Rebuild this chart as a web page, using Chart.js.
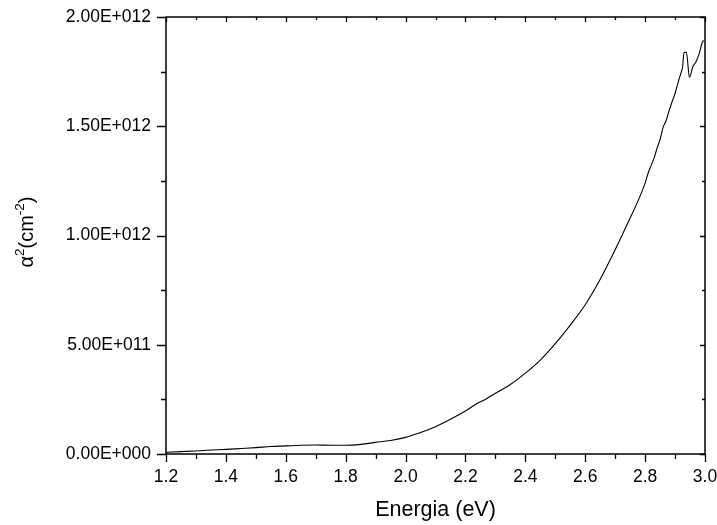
<!DOCTYPE html>
<html><head><meta charset="utf-8">
<script src="https://cdn.jsdelivr.net/npm/chart.js@4/dist/chart.umd.min.js"></script>
<style>html,body{margin:0;padding:0;background:#fff}#wrap{width:717px;height:525px;position:relative}</style>
</head><body><div id="wrap"><canvas id="c"></canvas></div>
<script>
// Energy (eV)
const energy = [1.20,1.25,1.30,1.35,1.40,1.45,1.50,1.55,1.60,1.65,1.70,1.75,1.80,1.85,1.90,1.95,2.00,2.05,2.10,2.15,2.20,2.24,2.26,2.30,2.35,2.40,2.45,2.50,2.55,2.60,2.65,2.70,2.75,2.78,2.80,2.81,2.82,2.83,2.84,2.85,2.86,2.87,2.88,2.89,2.90,2.91,2.92,2.925,2.93,2.938,2.948,2.96,2.97,2.98,2.99,2.995];
// alpha^2 (cm^-2)
const alpha2 = [0.008e12,0.011e12,0.014e12,0.018e12,0.021e12,0.025e12,0.029e12,0.034e12,0.037e12,0.040e12,0.041e12,0.040e12,0.040e12,0.044e12,0.053e12,0.062e12,0.076e12,0.098e12,0.125e12,0.159e12,0.197e12,0.232e12,0.245e12,0.278e12,0.318e12,0.370e12,0.430e12,0.505e12,0.590e12,0.683e12,0.800e12,0.935e12,1.080e12,1.170e12,1.240e12,1.285e12,1.320e12,1.355e12,1.400e12,1.440e12,1.495e12,1.525e12,1.570e12,1.612e12,1.650e12,1.700e12,1.745e12,1.770e12,1.838e12,1.838e12,1.724e12,1.775e12,1.795e12,1.830e12,1.880e12,1.893e12];
const xTickLabels = ['1.2','1.4','1.6','1.8','2.0','2.2','2.4','2.6','2.8','3.0'];
const yTickLabels = ['0.00E+000','5.00E+011','1.00E+012','1.50E+012','2.00E+012'];
const xTitle = 'Energia (eV)';

const FONT = '"Liberation Sans", Arial, sans-serif';

const framePlugin = {
  id: 'frame',
  afterDraw(chart) {
    const ctx = chart.ctx, a = chart.chartArea;
    const xs = chart.scales.x, ys = chart.scales.y;
    ctx.save();
    ctx.strokeStyle = '#000';
    ctx.lineWidth = 1.5;
    ctx.strokeRect(a.left, a.top, a.right - a.left, a.bottom - a.top);
    ctx.lineWidth = 1.3;
    ctx.beginPath();
    xs.ticks.forEach(t => {
      const px = Math.round(xs.getPixelForValue(t.value)) + 0.5;
      const major = Math.round(t.value * 10) % 2 === 0;
      ctx.moveTo(px, a.bottom); ctx.lineTo(px, a.bottom + (major ? 8 : 5));
      ctx.moveTo(px, a.top); ctx.lineTo(px, a.top + (major ? 5 : 3));
    });
    ys.ticks.forEach(t => {
      const py = Math.round(ys.getPixelForValue(t.value)) + 0.5;
      const major = Math.round(t.value / 2.5e11) % 2 === 0;
      ctx.moveTo(a.left, py); ctx.lineTo(a.left - (major ? 9 : 5), py);
      ctx.moveTo(a.right, py); ctx.lineTo(a.right - (major ? 5 : 3), py);
    });
    ctx.stroke();
    // axis titles
    ctx.fillStyle = '#000';
    ctx.font = '21.5px ' + FONT;
    ctx.textAlign = 'center';
    ctx.textBaseline = 'alphabetic';
    ctx.fillText(xTitle, (a.left + a.right) / 2, 516);
    // y title rotated: α²(cm⁻²)
    ctx.save();
    ctx.translate(33, 232);
    ctx.rotate(-Math.PI / 2);
    const parts = [['α', 20, 0], ['2', 13.5, -9.5], ['(cm', 20, 0], ['-2', 13.5, -9.5], [')', 20, 0]];
    let total = 0;
    parts.forEach(p => { ctx.font = p[1] + 'px ' + FONT; total += ctx.measureText(p[0]).width; });
    let x = -total / 2;
    ctx.textAlign = 'left';
    parts.forEach(p => { ctx.font = p[1] + 'px ' + FONT; ctx.fillText(p[0], x, p[2]); x += ctx.measureText(p[0]).width; });
    ctx.restore();
    ctx.restore();
  }
};

new Chart(document.getElementById('c'), {
  type: 'line',
  data: {
    datasets: [{
      data: energy.map((e, i) => ({ x: e, y: alpha2[i] })),
      borderColor: '#000',
      borderWidth: 1.1,
      pointRadius: 0,
      fill: false,
      tension: 0,
      cubicInterpolationMode: 'monotone'
    }]
  },
  options: {
    responsive: true,
    maintainAspectRatio: false,
    animation: false,
    devicePixelRatio: 1,
    layout: { padding: { left: 0, top: 17, right: 12, bottom: 0 } },
    plugins: { legend: { display: false }, tooltip: { enabled: false } },
    scales: {
      x: {
        type: 'linear', min: 1.2, max: 3.0,
        grid: { display: false, drawTicks: false },
        border: { display: false },
        ticks: {
          stepSize: 0.1, padding: 13, color: '#000', maxRotation: 0, autoSkip: false,
          font: { family: FONT, size: 17.5 },
          callback: v => { const k = Math.round(v * 10); return k % 2 === 0 ? xTickLabels[(k - 12) / 2] : ''; }
        },
        afterFit: s => { s.height = 71; s.paddingLeft = 0; s.paddingRight = 0; }
      },
      y: {
        type: 'linear', min: 0, max: 2e12,
        grid: { display: false, drawTicks: false },
        border: { display: false },
        ticks: {
          stepSize: 2.5e11, padding: 15, color: '#000', autoSkip: false,
          font: { family: FONT, size: 17.5 },
          callback: v => { const k = Math.round(v / 2.5e11); return k % 2 === 0 ? yTickLabels[k / 2] : ''; }
        },
        afterFit: s => { s.width = 166; s.paddingTop = 0; s.paddingBottom = 0; }
      }
    }
  },
  plugins: [framePlugin]
});
</script>
</body></html>
